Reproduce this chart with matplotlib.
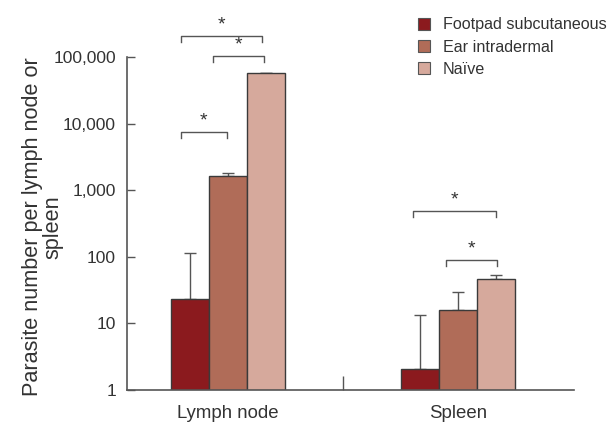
import numpy as np
import matplotlib
matplotlib.use('Agg')
import matplotlib.pyplot as plt
from matplotlib.patches import Patch
from matplotlib.ticker import FixedLocator, FixedFormatter

# --- data ---
groups = ["Lymph node", "Spleen"]
series = ["Footpad subcutaneous", "Ear intradermal", "Naïve"]
footpad = [23.4, 2.1]
footpad_err = [92, 11.3]
ear = [1650, 16]
ear_err = [150, 14]
naive = [58500, 46.7]
naive_err = [0, 7]
values = [footpad, ear, naive]
errors = [footpad_err, ear_err, naive_err]
colors_ = ["#8b1a1e", "#b06c58", "#d6a99c"]

# significance brackets: (x_left, x_right, y)
brackets = [(-0.204, 0.149, 213000), (-0.064, 0.157, 106000),
            (-0.204, -0.003, 7650), (0.805, 1.165, 492), (0.948, 1.169, 90)]

ytick_vals = [1, 10, 100, 1000, 10000, 100000]
ytick_labels = ["1", "10", "100", "1,000", "10,000", "100,000"]

plt.rcParams['font.family'] = ['Liberation Sans', 'DejaVu Sans']
TXT = "#333333"
AX = "#555555"

fig = plt.figure(figsize=(6.08, 4.22), dpi=100)
ax = fig.add_axes([0.2089, 0.0758, 0.735, 0.877])

x = np.arange(len(groups))
w = 0.165
for i, (vals, errs, c) in enumerate(zip(values, errors, colors_)):
    pos = x + (i - 1) * w
    ax.bar(pos, vals, width=w, color=c, edgecolor="#3a3a3a", linewidth=1.0,
           label=series[i], zorder=2)
    ax.errorbar(pos, np.array(vals), yerr=[np.zeros(len(errs)), errs], fmt='none',
                ecolor="#555555", elinewidth=1.0, capsize=4, capthick=1.0, zorder=1)

ax.set_yscale('log')
ax.set_ylim(1, 10 ** 5.564)
ax.set_xlim(-0.437, 1.504)

ax.yaxis.set_major_locator(FixedLocator(ytick_vals))
ax.yaxis.set_major_formatter(FixedFormatter(ytick_labels))
ax.yaxis.set_minor_locator(FixedLocator([]))
ax.tick_params(axis='y', direction='in', length=6, width=1, color=AX,
               labelsize=12.5, labelcolor=TXT, pad=8)
ax.set_xticks([0.5])
ax.set_xticklabels([""])
ax.tick_params(axis='x', direction='in', length=10, width=1, color=AX)
for g, xp in zip(groups, x):
    ax.text(xp, -0.04, g, transform=ax.get_xaxis_transform(), ha='center',
            va='top', fontsize=13.4, color=TXT)

for s in ['top', 'right']:
    ax.spines[s].set_visible(False)
for s in ['left', 'bottom']:
    ax.spines[s].set_color(AX)
    ax.spines[s].set_linewidth(1.2)
ax.spines['left'].set_bounds(1, 100000)

ax.set_ylabel("Parasite number per lymph node or\nspleen", fontsize=15.6,
              color=TXT, linespacing=1.0)
ax.yaxis.set_label_coords(-0.142, 2.45 / 5.564)

# brackets and stars
for xl, xr, yb in brackets:
    yd = yb * 0.81
    ax.plot([xl, xl, xr, xr], [yd, yb, yb, yd], color="#555555", lw=1.0,
            clip_on=False)
    ax.text((xl + xr) / 2, yb * 1.08, "*", ha='center', va='bottom',
            fontsize=14, color=TXT)

handles = [Patch(facecolor=c, edgecolor="#555555", linewidth=0.8) for c in colors_]
leg = fig.legend(handles, series, loc='upper left', bbox_to_anchor=(0.663, 0.993),
                 frameon=False, fontsize=11.6, handlelength=0.75, handleheight=0.75,
                 handletextpad=0.8, labelspacing=0.45, labelcolor=TXT)

fig.savefig("out.png", dpi=100)
